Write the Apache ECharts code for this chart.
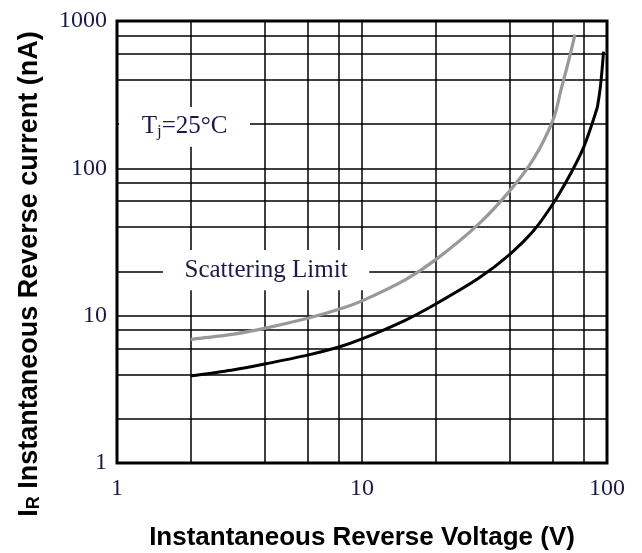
<!DOCTYPE html>
<html>
<head>
<meta charset="utf-8">
<script src="https://cdn.jsdelivr.net/npm/echarts@6/dist/echarts.min.js"></script>
<style>
html,body{margin:0;padding:0;background:#fff;}
#chart{width:642px;height:553px;}
</style>
</head>
<body>
<div id="chart"></div>
<script>
// Tick labels
const xTickValues = [1, 10, 100];
const yTickValues = [1, 10, 100, 1000];
// Minor grid lines
const xMinorGrid = [2, 4, 6, 8, 20, 40, 60, 80];
const yMinorGrid = [2, 4, 6, 8, 20, 40, 60, 80, 200, 400, 600, 800];

// Scattering limit curve (grey)
const limitV = [2, 3, 4, 6, 8, 10, 15, 20, 30, 40, 50, 60, 65, 70, 74];
const limitI = [6.9, 7.5, 8.2, 9.6, 11.0, 12.6, 17.5, 24, 42, 70, 115, 210, 345, 550, 810];

// Typical curve (black)
const typV = [2, 3, 4, 6, 8, 10, 15, 20, 30, 40, 50, 60, 70, 80, 90, 92, 94, 95.5, 96.8];
const typI = [3.9, 4.3, 4.7, 5.4, 6.1, 6.95, 9.3, 12.0, 18.0, 26, 37.5, 57, 88, 137, 240, 280, 360, 470, 620];

// Annotation texts and their (data-space) boxes
const tjBox = [[1.02, 140], [3.49, 261]];
const limitBox = [[1.54, 14.9], [10.7, 27.9]];

const labelColor = '#1a1a4a';

const chart = echarts.init(document.getElementById('chart'), null, {renderer: 'canvas'});

const zip = (a, b) => a.map((v, i) => [v, b[i]]);

// Smooth curve through the data points, positioned by the axes' scales (api.coord)
function splineSeries(name, xs, ys, color, width, z) {
  const data = zip(xs, ys);
  return {
    type: 'custom', name: name, z: z, data: data, clip: false, silent: true,
    encode: {x: 0, y: 1},
    renderItem: function (params, api) {
      if (params.dataIndex !== 0) return null;
      const pts = data.map(d => api.coord(d));
      let p = 'M' + pts[0][0] + ',' + pts[0][1];
      for (let i = 0; i < pts.length - 1; i++) {
        const p0 = pts[Math.max(i - 1, 0)], p1 = pts[i], p2 = pts[i + 1], p3 = pts[Math.min(i + 2, pts.length - 1)];
        const c1 = [p1[0] + (p2[0] - p0[0]) / 6, p1[1] + (p2[1] - p0[1]) / 6];
        const c2 = [p2[0] - (p3[0] - p1[0]) / 6, p2[1] - (p3[1] - p1[1]) / 6];
        p += ' C' + c1[0] + ',' + c1[1] + ' ' + c2[0] + ',' + c2[1] + ' ' + p2[0] + ',' + p2[1];
      }
      return {
        type: 'path',
        shape: {pathData: p},
        style: {fill: 'none', stroke: color, lineWidth: width, lineCap: 'butt', lineJoin: 'round'}
      };
    }
  };
}

const option = {
  animation: false,
  backgroundColor: '#fff',
  grid: {
    left: 117, top: 21, right: 35, bottom: 90,
    outerBoundsMode: 'none', containLabel: false,
    show: true, borderColor: '#000', borderWidth: 3, backgroundColor: 'transparent'
  },
  xAxis: {
    type: 'log', logBase: 10, min: 1, max: 100,
    axisLine: {show: false}, axisTick: {show: false},
    splitLine: {show: true, lineStyle: {color: '#000', width: 1.5}},
    axisLabel: {
      margin: 14, color: labelColor, fontFamily: 'Liberation Serif', fontSize: 24,
      formatter: v => xTickValues.includes(Math.round(v)) ? String(Math.round(v)) : ''
    },
    name: 'Instantaneous Reverse Voltage (V)',
    nameLocation: 'middle', nameGap: 62,
    nameTextStyle: {fontFamily: 'Liberation Sans', fontWeight: 'bold', fontSize: 26, color: '#000'}
  },
  yAxis: {
    type: 'log', logBase: 10, min: 1, max: 1000,
    axisLine: {show: false}, axisTick: {show: false},
    splitLine: {show: true, lineStyle: {color: '#000', width: 1.5}},
    axisLabel: {
      margin: 10, color: labelColor, fontFamily: 'Liberation Serif', fontSize: 24,
      formatter: v => yTickValues.includes(Math.round(v)) ? String(Math.round(v)) : ''
    }
  },
  graphic: [{
    type: 'text',
    x: 30, y: 274,
    rotation: Math.PI / 2,
    style: {
      text: '{m|I}{s|R}{m| Instantaneous Reverse current (nA)}',
      align: 'center', verticalAlign: 'middle',
      rich: {
        m: {fontFamily: 'Liberation Sans', fontWeight: 'bold', fontSize: 27, fill: '#000'},
        s: {fontFamily: 'Liberation Sans', fontWeight: 'bold', fontSize: 18, fill: '#000', padding: [9, 0, 0, 0]}
      }
    }
  }],
  series: [
    {
      name: 'grid', type: 'line', data: [], z: 1, silent: true,
      markLine: {
        silent: true, symbol: 'none', animation: false, z: 1,
        label: {show: false},
        lineStyle: {color: '#000', width: 1.5, type: 'solid'},
        data: xMinorGrid.map(v => ({xAxis: v})).concat(yMinorGrid.map(v => ({yAxis: v})))
      }
    },
    {
      name: 'labels', type: 'line', data: [], z: 2, silent: true,
      markArea: {
        silent: true, z: 3,
        itemStyle: {color: '#fff', opacity: 1},
        data: [
          [{coord: tjBox[0], label: {
              show: true, position: 'inside',
              formatter: 'T{s|j}=25°C',
              color: labelColor, fontFamily: 'Liberation Serif', fontSize: 25,
              rich: {s: {fontFamily: 'Liberation Serif', fontSize: 17, color: labelColor, padding: [10, 0, 0, 0]}}
            }}, {coord: tjBox[1]}],
          [{coord: limitBox[0], label: {
              show: true, position: 'inside',
              formatter: 'Scattering Limit',
              color: labelColor, fontFamily: 'Liberation Serif', fontSize: 25
            }}, {coord: limitBox[1]}]
        ]
      }
    },
    splineSeries('Scattering Limit', limitV, limitI, '#999999', 3.2, 5),
    splineSeries('Typical', typV, typI, '#000000', 3, 6)
  ]
};
chart.setOption(option);
</script>
</body>
</html>
